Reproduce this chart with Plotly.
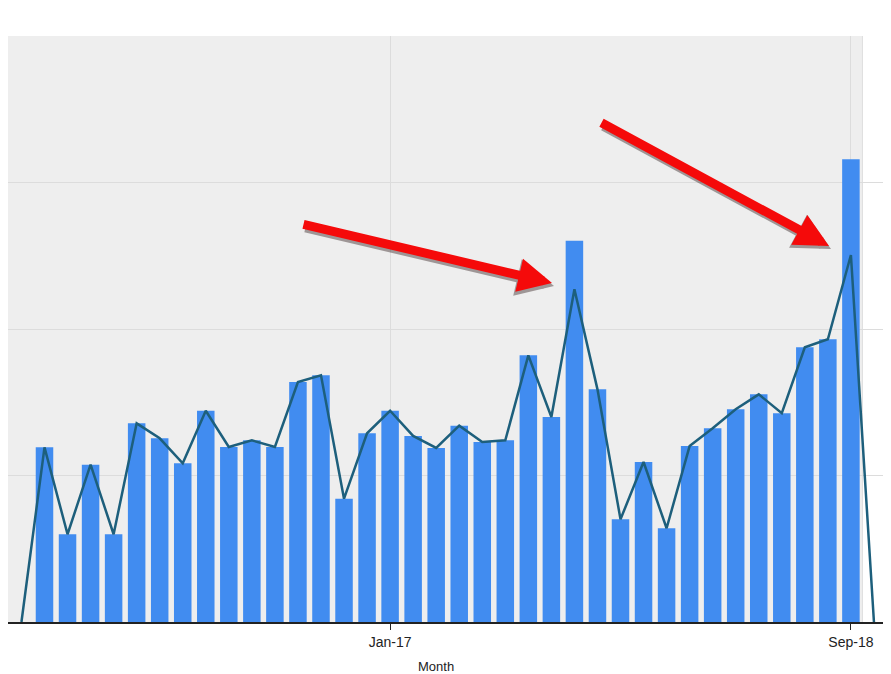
import plotly.graph_objects as go

months = ["Oct-15", "Nov-15", "Dec-15", "Jan-16", "Feb-16", "Mar-16", "Apr-16", "May-16",
          "Jun-16", "Jul-16", "Aug-16", "Sep-16", "Oct-16", "Nov-16", "Dec-16", "Jan-17",
          "Feb-17", "Mar-17", "Apr-17", "May-17", "Jun-17", "Jul-17", "Aug-17", "Sep-17",
          "Oct-17", "Nov-17", "Dec-17", "Jan-18", "Feb-18", "Mar-18", "Apr-18", "May-18",
          "Jun-18", "Jul-18", "Aug-18", "Sep-18"]

bar_values = [119.2, 59.9, 107.4, 59.9, 135.6, 125.4, 108.3, 144.2,
              119.5, 124.0, 119.5, 163.8, 168.4, 84.2, 128.8, 144.2,
              127.0, 118.8, 134.0, 122.9, 124.0, 182.0, 139.9, 260.3,
              158.8, 70.1, 109.2, 64.0, 120.1, 132.2, 145.2, 155.4,
              142.5, 187.5, 193.0, 315.8]

# line series includes the zero months before and after the bar range
line_months = ["Sep-15"] + months + ["Oct-18"]
line_values = [0, 119.2, 59.9, 107.4, 59.9, 135.6, 125.4, 108.3, 144.2,
               119.5, 124.0, 119.5, 163.8, 168.4, 84.2, 128.8, 144.2,
               127.0, 118.8, 134.0, 122.9, 124.0, 182.0, 139.9, 227.1,
               158.8, 70.1, 109.2, 64.0, 120.1, 132.2, 145.2, 155.4,
               142.5, 187.5, 193.0, 250.5, 0]

tick_labels = ["Jan-17", "Sep-18"]

bar_x = list(range(len(months)))
line_x = list(range(-1, len(months) + 1))
tick_pos = [months.index(t) for t in tick_labels]

# figure sits at page offset (8, 8); size it to fill the rest of the window
W, H = 883, 666
top, bottom = 28, 52
plot_h = H - top - bottom

fig = go.Figure()
fig.add_trace(go.Bar(x=bar_x, y=bar_values, marker=dict(color="#418cf0", line=dict(width=0)),
                     width=0.76, hoverinfo="skip"))
fig.add_trace(go.Scatter(x=line_x, y=line_values, mode="lines",
                         line=dict(color="#1d5f7c", width=2.5), hoverinfo="skip"))

x_lo, x_hi = -1.584, 36.74

fig.add_shape(type="rect", xref="x", yref="paper", x0=x_lo, x1=len(months) - 0.5, y0=0, y1=1,
              fillcolor="#eeeeee", line=dict(width=0), layer="below")
fig.add_shape(type="line", xref="x", yref="paper", x0=len(months) - 0.5, x1=len(months) - 0.5,
              y0=0, y1=1, line=dict(color="#dedede", width=1), layer="below")

# red arrows with shadow (head positions in page pixels of the reference)
def px(xp):
    return (xp - 8) / W

def py(yp):
    return (622 - yp) / plot_h

arrows = [
    dict(x=px(552), y=py(283), ax=-250, ay=-59),
    dict(x=px(829), y=py(246), ax=-229, ay=-124),
]
for a in arrows:
    fig.add_annotation(x=a["x"] + 2 / W, y=a["y"] - 3 / plot_h, ax=a["ax"], ay=a["ay"],
                       xref="paper", yref="paper", text="", showarrow=True,
                       arrowhead=2, arrowsize=0.75, arrowwidth=10,
                       arrowcolor="rgba(40,20,20,0.4)", standoff=0)
    fig.add_annotation(x=a["x"], y=a["y"], ax=a["ax"], ay=a["ay"],
                       xref="paper", yref="paper", text="", showarrow=True,
                       arrowhead=2, arrowsize=0.75, arrowwidth=9,
                       arrowcolor="#f50a0a", standoff=0)

fig.add_annotation(x=px(436), y=py(666), xref="paper", yref="paper", text="Month",
                   showarrow=False, font=dict(family="Liberation Sans", size=13, color="#222222"),
                   yanchor="middle")

fig.update_layout(
    width=W, height=H,
    margin=dict(l=0, r=0, t=top, b=bottom),
    paper_bgcolor="white", plot_bgcolor="white",
    showlegend=False,
    bargap=0.24,
    xaxis=dict(range=[x_lo, x_hi], tickmode="array", tickvals=tick_pos, ticktext=tick_labels,
               showgrid=True, gridcolor="#dcdcdc", gridwidth=1,
               ticks="outside", ticklen=6, tickcolor="#222222", tickwidth=1,
               showline=True, linecolor="#222222", linewidth=2,
               tickfont=dict(family="Liberation Sans", size=14, color="#222222"),
               zeroline=False, fixedrange=True),
    yaxis=dict(range=[0, 400], dtick=100, showgrid=True, gridcolor="#dcdcdc", gridwidth=1,
               showticklabels=False, zeroline=False, showline=False, ticks=""),
)

fig.write_html("out.html")
